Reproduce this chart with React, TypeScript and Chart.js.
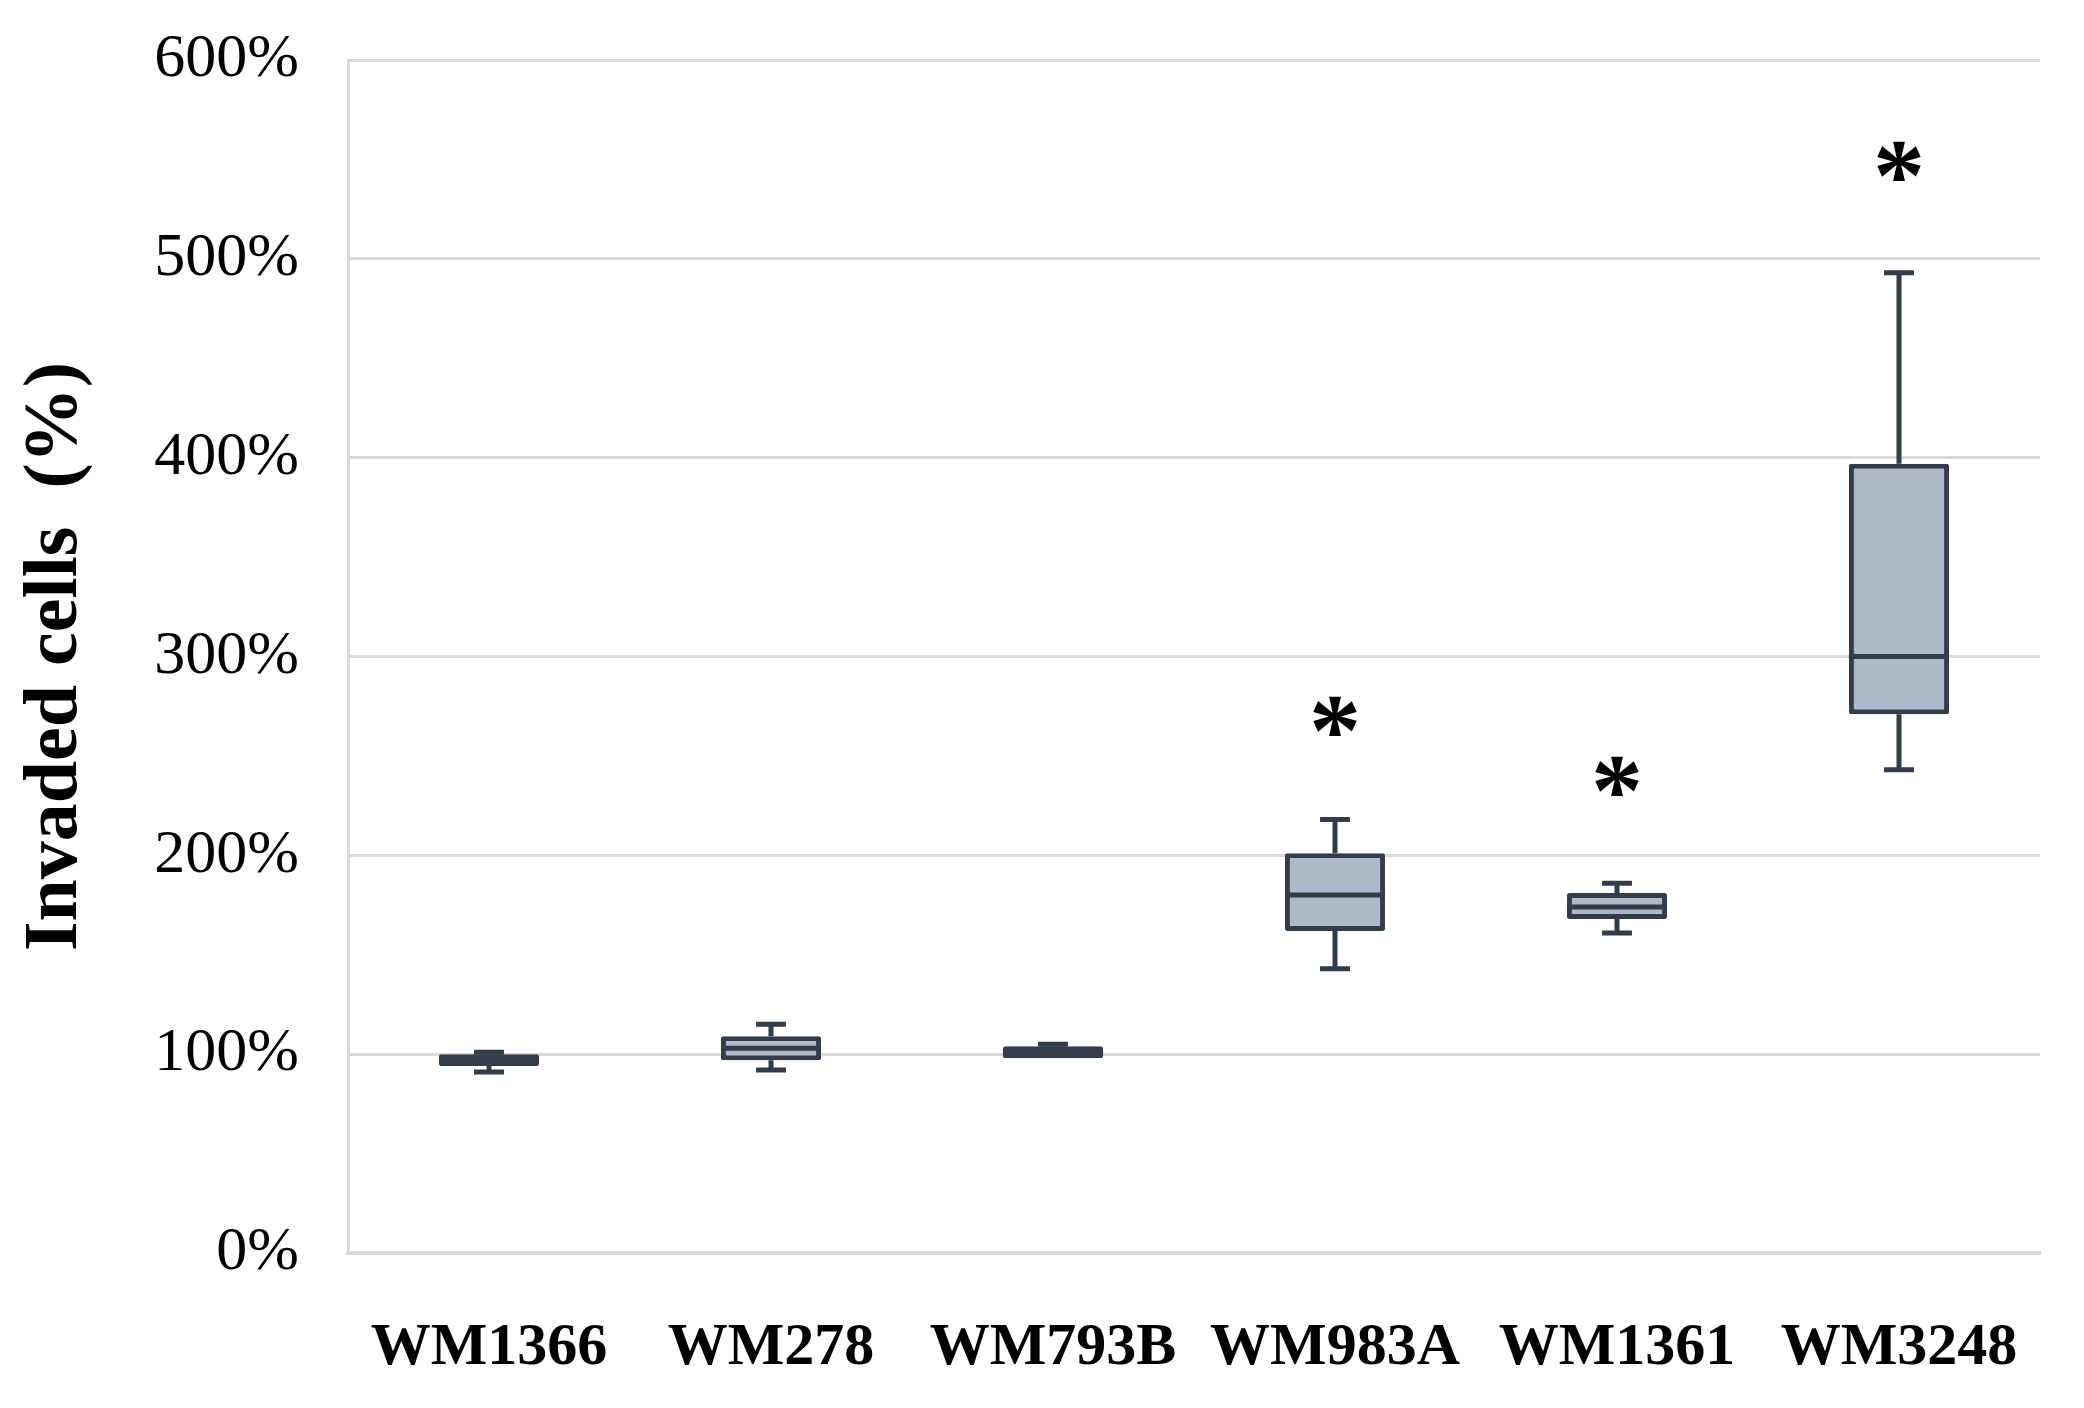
import React, { useEffect, useRef } from 'react';
import { Chart, registerables } from 'chart.js';

Chart.register(...registerables);

const categories = ['WM1366', 'WM278', 'WM793B', 'WM983A', 'WM1361', 'WM3248'];
const mins = [91, 92, 98, 143, 161, 243];
const q1s = [94, 97, 98, 162, 168, 271];
const medians = [97, 103, 101, 180, 174, 300];
const q3s = [100, 109, 104, 201, 181, 397];
const maxs = [101, 115, 105, 218, 186, 493];
const stars: (number | null)[] = [null, null, null, 270, 240, 549];
const yTicks = [0, 100, 200, 300, 400, 500, 600];

const FILL = '#ADB9CA';
const EDGE = '#333c48';
const GRID = '#d9d9d9';
const FONT = '"Liberation Serif", "Times New Roman", serif';
const LINE_W = 5;

const boxPlugin = {
  id: 'boxExtras',
  beforeDatasetsDraw(chart: any) {
    const { ctx, scales } = chart;
    const x = scales.x;
    const y = scales.y;
    const catW = x.getPixelForValue(1) - x.getPixelForValue(0);
    const capHalf = catW * 0.053;
    ctx.save();
    ctx.strokeStyle = EDGE;
    ctx.lineWidth = LINE_W;
    categories.forEach((_, i) => {
      const cx = x.getPixelForValue(i);
      const yMin = y.getPixelForValue(mins[i]);
      const yMax = y.getPixelForValue(maxs[i]);
      const yQ1 = y.getPixelForValue(q1s[i]);
      const yQ3 = y.getPixelForValue(q3s[i]);
      ctx.beginPath();
      if (maxs[i] > q3s[i]) {
        ctx.moveTo(cx, yQ3);
        ctx.lineTo(cx, yMax);
        ctx.moveTo(cx - capHalf, yMax);
        ctx.lineTo(cx + capHalf, yMax);
      }
      if (mins[i] < q1s[i]) {
        ctx.moveTo(cx, yQ1);
        ctx.lineTo(cx, yMin);
        ctx.moveTo(cx - capHalf, yMin);
        ctx.lineTo(cx + capHalf, yMin);
      }
      ctx.stroke();
    });
    ctx.restore();
  },
  afterDatasetsDraw(chart: any) {
    const { ctx, scales } = chart;
    const x = scales.x;
    const y = scales.y;
    const meta = chart.getDatasetMeta(0);
    ctx.save();
    ctx.strokeStyle = EDGE;
    ctx.lineWidth = LINE_W;
    categories.forEach((_, i) => {
      const bar = meta.data[i];
      const { x: bx, width } = bar.getProps(['x', 'width'], true);
      const ym = y.getPixelForValue(medians[i]);
      ctx.beginPath();
      ctx.moveTo(bx - width / 2, ym);
      ctx.lineTo(bx + width / 2, ym);
      ctx.stroke();
    });
    ctx.fillStyle = '#000';
    const size = 104;
    ctx.font = `bold ${size}px ${FONT}`;
    ctx.textAlign = 'center';
    ctx.textBaseline = 'alphabetic';
    stars.forEach((s, i) => {
      if (s === null) return;
      const cx = x.getPixelForValue(i);
      const sy = y.getPixelForValue(s);
      ctx.fillText('*', cx, sy + size * 0.47);
    });
    ctx.restore();
  },
};

export default function App() {
  const ref = useRef<HTMLCanvasElement | null>(null);
  useEffect(() => {
    document.body.style.margin = '0';
    const canvas = ref.current!;
    const chart = new Chart(canvas, {
      type: 'bar',
      data: {
        labels: categories,
        datasets: [
          {
            data: q1s.map((v, i) => [v, q3s[i]]) as any,
            backgroundColor: FILL,
            borderColor: EDGE,
            borderWidth: LINE_W,
            borderSkipped: false,
            borderRadius: 2,
            categoryPercentage: 1,
            barPercentage: 0.355,
          },
        ],
      },
      options: {
        responsive: false,
        animation: false,
        layout: { padding: { top: 60, right: 44, left: 0, bottom: 0 } },
        plugins: {
          legend: { display: false },
          tooltip: { enabled: false },
        },
        scales: {
          x: {
            grid: { display: false, drawTicks: false },
            border: { display: true, color: GRID, width: 4 },
            ticks: {
              color: '#000',
              padding: 59,
              maxRotation: 0,
              autoSkip: false,
              font: { family: FONT, size: 60, weight: 'bold' },
            },
            afterFit(scale: any) {
              scale.height = 155;
            },
          },
          y: {
            min: 0,
            max: 600,
            afterBuildTicks(scale: any) {
              scale.ticks = yTicks.map((v) => ({ value: v }));
            },
            grid: { color: GRID, lineWidth: 3, drawTicks: false },
            border: { display: true, color: GRID, width: 3 },
            ticks: {
              color: '#000',
              padding: 49,
              font: { family: FONT, size: 62 },
              callback: (v: any) => `${v}%`,
            },
            title: {
              display: true,
              text: 'Invaded cells  (%)',
              color: '#000',
              font: { family: FONT, size: 76, weight: 'bold' },
              padding: { top: 11, bottom: 0 },
            },
            afterFit(scale: any) {
              scale.width = 348;
              scale.paddingTop = 0;
              scale.paddingBottom = 0;
            },
          },
        },
      },
      plugins: [boxPlugin],
    });
    return () => chart.destroy();
  }, []);
  return (
    <div style={{ width: 2084, height: 1408, background: '#fff' }}>
      <canvas ref={ref} width={2084} height={1408} style={{ display: 'block' }} />
    </div>
  );
}
